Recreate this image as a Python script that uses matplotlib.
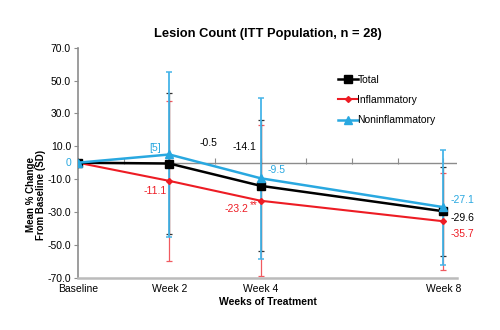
import matplotlib
matplotlib.use("Agg")
import matplotlib.pyplot as plt

plt.rcParams['font.family'] = ['Liberation Sans', 'DejaVu Sans']

weeks = [0, 2, 4, 8]
week_labels = ['Baseline', 'Week 2', 'Week 4', 'Week 8']

total = [0, -0.5, -14.1, -29.6]
inflam = [0, -11.1, -23.2, -35.7]
noninfl = [0, 5, -9.5, -27.1]

total_sd = [0, 43, 40, 27]
inflam_sd = [0, 49, 46, 29.5]
noninfl_sd = [0, 50, 49, 35]

BLACK = '#000000'
RED = '#ED1C24'
BLUE = '#29A8E0'
GRAY = '#8C8C8C'

fig = plt.figure(figsize=(5, 3.3), dpi=100)
ax = fig.add_axes([0.156, 0.159, 0.758, 0.696])

# error bars (only after baseline)
ax.errorbar(weeks[1:], inflam[1:], yerr=inflam_sd[1:], fmt='none',
            ecolor='#F05A60', elinewidth=0.9, capsize=2.2, capthick=0.9, zorder=2)
ax.errorbar(weeks[1:], total[1:], yerr=total_sd[1:], fmt='none',
            ecolor='#333333', elinewidth=0.9, capsize=2.2, capthick=0.9, zorder=2)
ax.errorbar(weeks[1:], noninfl[1:], yerr=noninfl_sd[1:], fmt='none',
            ecolor='#45B4E8', elinewidth=1.3, capsize=2.5, capthick=1.1, zorder=3)

# zero line with weekly ticks
ax.axhline(0, color=GRAY, lw=1.0, zorder=1)
ax.plot(range(0, 9), [1] * 9, ls='none', marker='|', ms=4, mew=0.8,
        color=GRAY, zorder=1)

l1, = ax.plot(weeks, total, color=BLACK, lw=1.8, marker='s', ms=5.5,
              label='Total', zorder=5)
l2, = ax.plot(weeks, inflam, color=RED, lw=1.5, marker='D', ms=3,
              label='Inflammatory', zorder=4)
l3, = ax.plot(weeks, noninfl, color=BLUE, lw=1.8, marker='^', ms=5.5,
              label='Noninflammatory', zorder=6)

ax.set_xlim(0, 8.3)
ax.set_ylim(-70, 70)
ax.set_yticks([70, 50, 30, 10, -10, -30, -50, -70])
ax.set_yticklabels(['70.0', '50.0', '30.0', '10.0', '-10.0', '-30.0', '-50.0', '-70.0'],
                   fontsize=7.5)
ax.set_xticks(weeks)
ax.set_xticklabels(week_labels, fontsize=7.5)
ax.tick_params(axis='x', length=0, pad=5)
ax.tick_params(axis='y', length=3, color=GRAY, pad=2)

for s in ['top', 'right']:
    ax.spines[s].set_visible(False)
ax.spines['left'].set_color(GRAY)
ax.spines['left'].set_linewidth(1.2)
ax.spines['bottom'].set_color('#BBBBBB')
ax.spines['bottom'].set_linewidth(1.8)

ax.set_title('Lesion Count (ITT Population, n = 28)', fontsize=9.3,
             fontweight='bold', pad=8)
ax.set_xlabel('Weeks of Treatment', fontsize=7.5, fontweight='bold', labelpad=2)
ax.set_ylabel('Mean % Change\nFrom Baseline (SD)', fontsize=7, fontweight='bold',
              linespacing=1.0)
ax.yaxis.set_label_coords(-0.085, 0.36)

def lab(x, y, s, color, dx, dy, ha='center', size=7.5):
    ax.annotate(s, (x, y), xytext=(dx, dy), textcoords='offset points',
                ha=ha, va='center', fontsize=size, color=color, zorder=8)

lab(0, 0, '0', BLUE, -5, 0, ha='right')
lab(2, noninfl[1], '[5]', BLUE, -10, 5)
lab(2, total[1], '-0.5', BLACK, 28, 15)
lab(4, total[2], '-14.1', BLACK, -12, 28)
lab(4, noninfl[2], '-9.5', BLUE, 5, 6, ha='left')
lab(2, inflam[1], '-11.1', RED, -10, -7)
lab(4, inflam[2], '-23.2', RED, -9, -6, ha='right')
lab(4, inflam[2], '**', RED, -8, -3, ha='left', size=7)
lab(8, noninfl[3], '-27.1', BLUE, 5, 5, ha='left')
lab(8, total[3], '-29.6', BLACK, 5, -5, ha='left')
lab(8, inflam[3], '-35.7', RED, 5, -9, ha='left')

fig.legend(handles=[l1, l2, l3], loc='upper left', bbox_to_anchor=(0.665, 0.79),
           frameon=False, fontsize=7.5, handlelength=1.9, handletextpad=0.0,
           labelspacing=1.0, borderpad=0)

fig.savefig('out.png', dpi=100)
